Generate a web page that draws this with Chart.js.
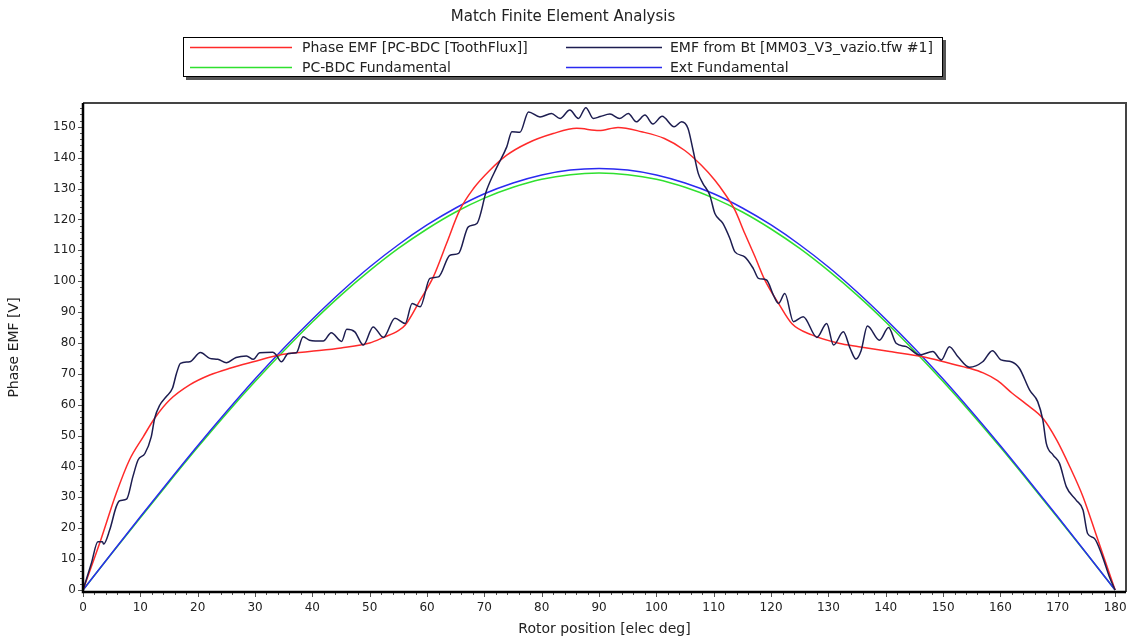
<!DOCTYPE html>
<html>
<head>
<meta charset="utf-8">
<title>Match Finite Element Analysis</title>
<script src="https://cdn.jsdelivr.net/npm/chart.js@4.4.1/dist/chart.umd.min.js"></script>
<style>
  html, body { margin: 0; padding: 0; background: #fff; }
  #chart { display: block; }
</style>
</head>
<body>
<canvas id="chart" width="1131" height="641"></canvas>
<script>
// values
const xTicks = [0, 10, 20, 30, 40, 50, 60, 70, 80, 90, 100, 110, 120, 130, 140, 150, 160, 170, 180];
const yTicks = [0, 10, 20, 30, 40, 50, 60, 70, 80, 90, 100, 110, 120, 130, 140, 150];

const redX = [0, 2.9, 5.8, 8.1, 10.5, 12.5, 15.1, 18.6, 22.1, 25.6, 29.7, 34.3, 39.5, 45, 50, 52.4, 55, 56.2, 58.8, 61.1,
  63.4, 65.7, 68.1, 71, 73.9, 77.4, 82, 86.1, 90, 93.3, 97.4, 101.4, 104.9, 107.8, 110.2, 111.9, 113.7, 115.4, 117.2,
  118.9, 121.3, 123.6, 127.1, 131.8, 135.3, 140.7, 146.5, 151.1, 154.6, 157, 159.5, 162, 164.5, 167.4, 169.8, 172.1, 174.4,
  176.8, 180];
const redY = [0, 15.1, 31.3, 42.1, 49.6, 55.6, 61.5, 66.4, 69.6, 71.8, 73.9, 76.1, 77.2, 78.4, 80, 81.8, 84, 85.8, 93.9, 101.4,
  112.2, 123, 130, 136, 140.8, 144.6, 147.8, 149.5, 148.8, 149.8, 148.4, 146.2, 142.4, 137.6, 132.7, 128.4, 123, 115.5, 107.9,
  100.4, 92.8, 86.3, 82.6, 79.9, 78.8, 77.2, 75.5, 73.4, 71.8, 70.3, 67.8, 63.8, 60.2, 55.6, 48.6, 39.9, 30.2,
  17.3, 0];

const navyX = [0, 1.45, 2.6, 3.4, 3.6, 4.65, 5.8, 6.4, 7.6, 8.7, 9.6, 10.8, 11.9, 12.5, 13.4, 14.5, 15.6, 16.3, 17, 18.6,
  20.5, 22.1, 23.5, 25, 26.7, 28.5, 29.7, 30.8, 33.1, 33.7, 34.6, 35.8, 37.2, 38.4, 39.5, 41.9, 43.3, 45.1, 46, 47.4,
  48.9, 50.6, 52.4, 54.4, 56.2, 57.4, 58.8, 60.5, 62, 64, 65.5, 67.2, 68.7, 70.4, 72.2, 73.9, 74.8, 76.2, 77.7, 79.7,
  81.7, 83.2, 84.9, 86.4, 87.7, 89, 90.2, 91.9, 93.6, 95.1, 96.5, 98, 99.4, 101, 103.1, 104.4, 105.5, 106.4, 107.3, 108.1,
  109.3, 110.2, 111.6, 112.8, 113.7, 115.4, 116.9, 117.8, 119.2, 120.4, 121.3, 122.4, 123.9, 125.6, 128, 129.7, 130.9, 132.6,
  133.8, 134.8, 135.7, 136.8, 138.9, 140.5, 141.8, 143.6, 145.9, 148.2, 149.7, 151.1, 152.6, 154.6, 156.9, 158.6, 160.1,
  161.9, 163.3, 165.1, 166.5, 167.4, 168, 169.2, 170.3, 171.5, 173.2, 174.4, 175.2, 176.4, 177.8, 179, 180];
const navyY = [0, 8.6, 15.6, 15.6, 14.9, 19.4, 27, 28.9, 29.4, 36.7, 42.1, 44.2, 49.6, 55.6, 59.9, 62.6, 65.3, 70.1, 73.4, 73.9,
  76.9, 75, 74.7, 73.6, 75.3, 75.8, 74.7, 76.8, 77, 76.1, 73.9, 76.6, 76.8, 82, 80.9, 80.6, 83.3, 80.5, 84.4, 83.6,
  79.3, 85.2, 81.8, 88, 86.3, 92.8, 91.7, 100.9, 101.4, 108.4, 109, 117.6, 118.7, 129.5, 137, 143.5, 148.4, 148.2, 154.8, 153.2,
  154.3, 152.7, 155.4, 152.7, 156.2, 152.7, 153.3, 154.1, 152.7, 154.3, 151.6, 153.8, 150.9, 153.4, 150, 151.6, 149.5, 142.4, 134.9, 131.7,
  127.9, 121.9, 118.7, 113.9, 109.5, 107.9, 104.1, 100.9, 100.4, 95.5, 92.8, 96, 86.9, 88.5, 81.8, 86.3, 79.3, 83.6,
  78.2, 74.8, 77.5, 85.5, 80.9, 85, 79.9, 78.8, 76.1, 77.2, 74.5, 78.8, 75.5, 72.1, 73.9, 77.5, 74.5,
  73.9, 71.8, 64.7, 61, 55, 47.5, 43.7, 41, 33.4, 29.1, 25.9, 18.3, 16.7, 10.8, 4.3, 0];

const fundX = [0, 5, 10, 15, 20, 25, 30, 35, 40, 45, 50, 55, 60, 65, 70, 75, 80, 85, 90,
  95, 100, 105, 110, 115, 120, 125, 130, 135, 140, 145, 150, 155, 160, 165, 170, 175, 180];
const greenY = [0, 11.8, 23.4, 34.9, 46.2, 57.1, 67.5, 77.4, 86.8, 95.5, 103.4, 110.6, 116.9, 122.4, 126.9, 130.4, 133, 134.5, 135,
  134.5, 133, 130.4, 126.9, 122.4, 116.9, 110.6, 103.4, 95.5, 86.8, 77.4, 67.5, 57.1, 46.2, 34.9, 23.4, 11.8, 0];
const blueY = [0, 11.9, 23.7, 35.3, 46.7, 57.7, 68.3, 78.3, 87.7, 96.5, 104.6, 111.8, 118.2, 123.7, 128.3, 131.8, 134.4, 136, 136.5,
  136, 134.4, 131.8, 128.3, 123.7, 118.2, 111.8, 104.6, 96.5, 87.7, 78.3, 68.3, 57.7, 46.7, 35.3, 23.7, 11.9, 0];

const pts = (xs, ys) => xs.map((x, i) => ({ x: x, y: ys[i] }));

const FONT = '"DejaVu Sans", Verdana, sans-serif';
const TEXT = '#222';

// axis frame with major and minor tick marks
const framePlugin = {
    id: 'frame',
    afterDatasetsDraw(chart) {
        const { ctx, chartArea: a, scales } = chart;
        ctx.save();
        ctx.strokeStyle = '#555';
        ctx.lineWidth = 1;
        ctx.beginPath();
        for (let v = 0; v <= 180; v += 2) {
            const px = Math.round(scales.x.getPixelForValue(v)) + 0.5;
            ctx.moveTo(px, a.bottom);
            ctx.lineTo(px, a.bottom + (v % 10 === 0 ? 5 : 3));
        }
        for (let v = 0; v <= 156; v += 2) {
            const py = Math.round(scales.y.getPixelForValue(v)) + 0.5;
            ctx.moveTo(a.left, py);
            ctx.lineTo(a.left - (v % 10 === 0 ? 5 : 3), py);
        }
        ctx.stroke();

        ctx.strokeStyle = '#444';
        ctx.lineWidth = 2;
        ctx.beginPath();
        ctx.moveTo(a.left, a.top);
        ctx.lineTo(a.right, a.top);
        ctx.lineTo(a.right, a.bottom);
        ctx.stroke();

        ctx.strokeStyle = '#000';
        ctx.lineWidth = 2.5;
        ctx.beginPath();
        ctx.moveTo(a.left, a.top);
        ctx.lineTo(a.left, a.bottom);
        ctx.lineTo(a.right, a.bottom);
        ctx.stroke();
        ctx.restore();
    }
};

// two column boxed legend
const boxLegend = {
    id: 'boxLegend',
    afterDraw(chart) {
        const ctx = chart.ctx;
        const slots = [[190, 292, 302, 47], [566, 662, 670, 47], [190, 292, 302, 67], [566, 662, 670, 67]];
        ctx.save();
        ctx.fillStyle = '#555';
        ctx.fillRect(186, 40, 760, 40);
        ctx.fillStyle = '#fff';
        ctx.fillRect(183, 37, 760, 40);
        ctx.strokeStyle = '#000';
        ctx.lineWidth = 1;
        ctx.strokeRect(183.5, 37.5, 759, 39);
        ctx.font = '14px ' + FONT;
        ctx.textBaseline = 'middle';
        chart.data.datasets.forEach((ds, i) => {
            const [x0, x1, tx, y] = slots[i];
            ctx.strokeStyle = ds.borderColor;
            ctx.lineWidth = 1.5;
            ctx.beginPath();
            ctx.moveTo(x0, y + 0.5);
            ctx.lineTo(x1, y + 0.5);
            ctx.stroke();
            ctx.fillStyle = TEXT;
            ctx.fillText(ds.label, tx, y + 1);
        });
        ctx.restore();
    }
};

document.addEventListener('DOMContentLoaded', () => {
    const ctx = document.getElementById('chart').getContext('2d');
    new Chart(ctx, {
        type: 'line',
        data: {
            datasets: [
                { label: 'Phase EMF [PC-BDC [ToothFlux]]', data: pts(redX, redY), borderColor: '#ff2a2a', order: 2 },
                { label: 'EMF from Bt [MM03_V3_vazio.tfw #1]', data: pts(navyX, navyY), borderColor: '#1d1d50', order: 1 },
                { label: 'PC-BDC Fundamental', data: pts(fundX, greenY), borderColor: '#2fe02f', order: 4 },
                { label: 'Ext Fundamental', data: pts(fundX, blueY), borderColor: '#2a2af0', order: 3 }
            ]
        },
        options: {
            responsive: false,
            animation: false,
            devicePixelRatio: 1,
            elements: {
                point: { radius: 0 },
                line: { borderWidth: 1.5, cubicInterpolationMode: 'monotone', fill: false }
            },
            layout: { padding: { left: 0, right: 5, top: 0, bottom: 0 } },
            plugins: {
                legend: { display: false },
                tooltip: { enabled: false },
                title: {
                    display: true,
                    text: 'Match Finite Element Analysis',
                    color: TEXT,
                    font: { family: FONT, size: 15, weight: 'normal' },
                    padding: { top: 8, bottom: 77 }
                }
            },
            scales: {
                x: {
                    type: 'linear',
                    min: 0,
                    max: 181.9,
                    grid: { display: false, drawTicks: false },
                    border: { display: false },
                    ticks: { padding: 9, color: TEXT, font: { family: FONT, size: 12 }, maxRotation: 0, autoSkip: false },
                    afterBuildTicks: s => { s.ticks = xTicks.map(v => ({ value: v })); },
                    afterFit: s => { s.height = 49; s.paddingLeft = 0; s.paddingRight = 0; },
                    title: {
                        display: true,
                        text: 'Rotor position [elec deg]',
                        color: TEXT,
                        font: { family: FONT, size: 14 },
                        padding: { top: 0, bottom: 3 }
                    }
                },
                y: {
                    min: -0.65,
                    max: 157.7,
                    grid: { display: false, drawTicks: false },
                    border: { display: false },
                    ticks: { padding: 7, color: TEXT, font: { family: FONT, size: 12 } },
                    afterBuildTicks: s => { s.ticks = yTicks.map(v => ({ value: v })); },
                    afterFit: s => { s.width = 83; s.paddingTop = 0; s.paddingBottom = 0; },
                    title: {
                        display: true,
                        text: 'Phase EMF [V]',
                        color: TEXT,
                        font: { family: FONT, size: 14 },
                        padding: { top: 6, bottom: 0 }
                    }
                }
            }
        },
        plugins: [framePlugin, boxLegend]
    });
});
</script>
</body>
</html>
